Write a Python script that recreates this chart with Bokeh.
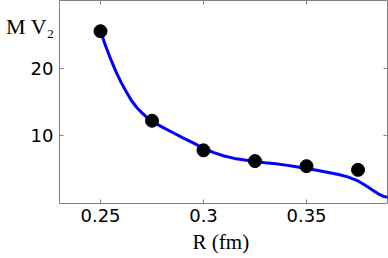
from bokeh.plotting import figure
from bokeh.models import LinearAxis, FixedTicker, Range1d
from bokeh.embed import file_html
from bokeh.resources import INLINE

# data
r_points = [0.25, 0.275, 0.3, 0.325, 0.35, 0.375]
mv2_points = [25.5, 12.2, 7.8, 6.2, 5.45, 4.9]

r_curve = [0.250, 0.2525, 0.255, 0.2575, 0.260, 0.2625, 0.265, 0.2675, 0.270, 0.2725,
           0.275, 0.280, 0.285, 0.290, 0.295, 0.300, 0.305, 0.310, 0.315, 0.320,
           0.325, 0.330, 0.335, 0.340, 0.345, 0.350, 0.355, 0.360, 0.365, 0.370,
           0.3725, 0.375, 0.3775, 0.380, 0.3825, 0.385, 0.3875, 0.390]
mv2_curve = [25.5, 23.3, 21.3, 19.5, 17.9, 16.5, 15.2, 14.2, 13.4, 12.7,
             12.1, 11.25, 10.45, 9.65, 8.9, 8.1, 7.45, 6.95, 6.6, 6.35,
             6.15, 5.95, 5.8, 5.6, 5.35, 5.1, 4.85, 4.55, 4.25, 3.85,
             3.55, 3.25, 2.8, 2.3, 1.8, 1.3, 0.95, 0.8]

x_ticks = [0.25, 0.3, 0.35]
x_tick_labels = ["0.25", "0.3", "0.35"]
y_ticks = [10, 20]
y_tick_labels = ["10", "20"]
x_title = "R  (fm)"
y_title = "\n\nM V\u2082"

GRAY = "#808080"

p = figure(width=388, height=258, output_backend="svg", toolbar_location=None,
           x_range=Range1d(0.2301, 0.3893), y_range=Range1d(-0.1, 30.06),
           x_axis_location=None, y_axis_location=None,
           min_border_left=59, min_border_right=1, min_border_top=0, min_border_bottom=55)
p.grid.visible = False
p.outline_line_color = GRAY
p.outline_line_width = 1
p.background_fill_color = "white"
p.border_fill_color = "white"

def style(ax, labels, ticks, show):
    ax.ticker = FixedTicker(ticks=ticks)
    ax.major_label_overrides = {t: l for t, l in zip(ticks, labels)}
    ax.major_tick_in = 4
    ax.major_tick_out = 0
    ax.minor_tick_line_color = None
    ax.major_tick_line_color = GRAY
    ax.axis_line_color = None
    if show:
        ax.major_label_text_font = "DejaVu Sans"
        ax.major_label_text_font_size = "18px"
        ax.major_label_text_color = "black"
        ax.major_label_standoff = 6
        ax.axis_label_text_font = "Liberation Serif"
        ax.axis_label_text_font_size = "21px"
        ax.axis_label_text_font_style = "normal"
        ax.axis_label_text_color = "black"
    else:
        ax.major_label_text_font_size = "0px"
        ax.major_label_standoff = 0

xb = LinearAxis(axis_label=x_title)
style(xb, x_tick_labels, x_ticks, True)
xb.major_label_standoff = 5
xb.axis_label_standoff = 5
p.add_layout(xb, "below")
xa = LinearAxis()
style(xa, x_tick_labels, x_ticks, False)
p.add_layout(xa, "above")

yl = LinearAxis(axis_label=y_title)
style(yl, y_tick_labels, y_ticks, True)
yl.axis_label_orientation = "horizontal"
yl.axis_label_align = "end"
yl.axis_label_text_font_size = "22px"
yl.axis_label_text_line_height = 1.04
yl.axis_label_standoff = -27
p.add_layout(yl, "left")
yr = LinearAxis()
style(yr, y_tick_labels, y_ticks, False)
p.add_layout(yr, "right")

p.line(r_curve, mv2_curve, line_color="#0000ff", line_width=3, line_join="round")
p.scatter(r_points, mv2_points, size=13, fill_color="black", line_color="black")

open("out.html", "w").write(file_html(p, INLINE))
